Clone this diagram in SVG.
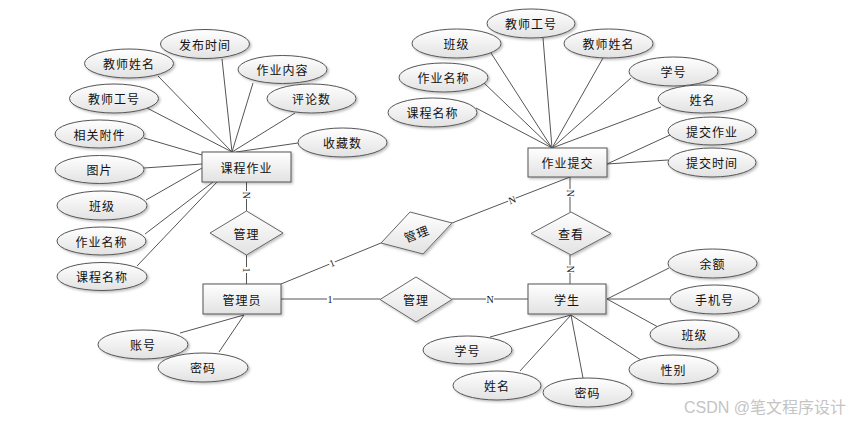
<svg xmlns="http://www.w3.org/2000/svg" width="850" height="421" viewBox="0 0 850 421">
<defs>
  <linearGradient id="g" x1="0" y1="0" x2="0" y2="1">
    <stop offset="0" stop-color="#ffffff"/>
    <stop offset="1" stop-color="#e2e2e2"/>
  </linearGradient>
  <filter id="sh" x="-20%" y="-20%" width="140%" height="150%">
    <feDropShadow dx="1.5" dy="1.5" stdDeviation="1" flood-color="#000" flood-opacity="0.25"/>
  </filter>
</defs>
<style>
  .attr ellipse { fill: url(#g); stroke: #555; stroke-width: 1; filter: url(#sh); }
  .ent rect { fill: url(#g); stroke: #555; stroke-width: 1; filter: url(#sh); }
  .rel polygon { fill: url(#g); stroke: #666; stroke-width: 1; filter: url(#sh); }
  text { font-family: "Noto Sans CJK SC", "Liberation Sans", sans-serif; font-size: 12px; fill: #111; text-anchor: middle; dominant-baseline: central; letter-spacing: 1px; }
  .conn line { stroke: #555; stroke-width: 1; }
  .card rect { fill: #fff; }
  .card text { font-family: "Liberation Serif", serif; font-size: 10px; letter-spacing: 0; }
  .wm { font-family: "Liberation Sans", "Noto Sans CJK SC", sans-serif; font-size: 16px; fill: #c4c4c4; text-anchor: end; letter-spacing: 0; }
</style>
<rect width="850" height="421" fill="#fff"/>

<g id="connectors" class="conn">
  <!-- 课程作业 attributes -->
  <line x1="222" y1="59" x2="232" y2="152"/>
  <line x1="158" y1="76" x2="232" y2="152"/>
  <line x1="253" y1="83" x2="232" y2="152"/>
  <line x1="147" y1="108" x2="232" y2="152"/>
  <line x1="295" y1="113" x2="232" y2="152"/>
  <line x1="298" y1="143" x2="236" y2="152"/>
  <line x1="144" y1="138" x2="202" y2="155"/>
  <line x1="144" y1="168" x2="202" y2="164"/>
  <line x1="146" y1="200" x2="202" y2="168"/>
  <line x1="145" y1="234" x2="213" y2="182"/>
  <line x1="137" y1="266" x2="217" y2="182"/>
  <!-- 作业提交 attributes -->
  <line x1="491" y1="53" x2="552" y2="148"/>
  <line x1="543" y1="38" x2="552" y2="148"/>
  <line x1="603" y1="58" x2="552" y2="148"/>
  <line x1="484" y1="83" x2="552" y2="148"/>
  <line x1="476" y1="108" x2="552" y2="148"/>
  <line x1="631" y1="78" x2="552" y2="148"/>
  <line x1="661" y1="107" x2="552" y2="148"/>
  <line x1="670" y1="135" x2="607" y2="164"/>
  <line x1="668" y1="160" x2="607" y2="164"/>
  <!-- 管理员 attributes -->
  <line x1="180" y1="333" x2="244" y2="315"/>
  <line x1="219" y1="352" x2="244" y2="315"/>
  <!-- 学生 attributes -->
  <line x1="669" y1="268" x2="607" y2="299"/>
  <line x1="670" y1="299" x2="607" y2="299"/>
  <line x1="658" y1="327" x2="607" y2="299"/>
  <line x1="490" y1="337" x2="571" y2="315"/>
  <line x1="520" y1="371" x2="571" y2="315"/>
  <line x1="583" y1="378" x2="571" y2="315"/>
  <line x1="641" y1="360" x2="571" y2="315"/>
  <!-- relationships -->
  <line x1="246.5" y1="182" x2="246.5" y2="211"/>
  <line x1="246.5" y1="255" x2="246.5" y2="284"/>
  <line x1="570" y1="177" x2="570" y2="212"/>
  <line x1="570" y1="255" x2="570" y2="284"/>
  <line x1="281" y1="299" x2="380" y2="299"/>
  <line x1="452" y1="299" x2="528" y2="299"/>
  <line x1="281" y1="284" x2="381" y2="243"/>
  <line x1="452" y1="223" x2="570" y2="177"/>
  <!-- cardinality labels -->
  <g class="card">
    <g transform="translate(246.5,195) rotate(90)"><rect x="-4" y="-5" width="8" height="10"/><text>N</text></g>
    <g transform="translate(246.5,270) rotate(90)"><rect x="-3" y="-5" width="6" height="10"/><text>1</text></g>
    <g transform="translate(570,193) rotate(90)"><rect x="-4" y="-5" width="8" height="10"/><text>N</text></g>
    <g transform="translate(570,269) rotate(90)"><rect x="-4" y="-5" width="8" height="10"/><text>N</text></g>
    <g transform="translate(330,299)"><rect x="-3" y="-5" width="6" height="10"/><text>1</text></g>
    <g transform="translate(490,299)"><rect x="-4" y="-5" width="8" height="10"/><text>N</text></g>
    <g transform="translate(332,263) rotate(-22)"><rect x="-3" y="-5" width="6" height="10"/><text>1</text></g>
    <g transform="translate(512,200) rotate(-21)"><rect x="-4" y="-5" width="8" height="10"/><text>N</text></g>
  </g>
</g>

<!-- entities -->
<g id="e-kczy" class="ent"><rect x="202" y="152" width="89" height="30"/><text x="246.5" y="167">课程作业</text></g>
<g id="e-zytj" class="ent"><rect x="528" y="148" width="79" height="29"/><text x="567.5" y="162.5">作业提交</text></g>
<g id="e-gly" class="ent"><rect x="203" y="284" width="78" height="30"/><text x="242" y="299">管理员</text></g>
<g id="e-xs" class="ent"><rect x="528" y="284" width="78" height="30"/><text x="567" y="299">学生</text></g>

<!-- relationships -->
<g id="r-gl1" class="rel"><polygon points="210,233 246.5,211 283,233 246.5,255"/><text x="246.5" y="233">管理</text></g>
<g id="r-ck" class="rel"><polygon points="531,233.5 571,212 611,233.5 571,255"/><text x="571" y="233.5">查看</text></g>
<g id="r-gl2" class="rel"><polygon points="380,299.5 416,277 452,299.5 416,322"/><text x="416" y="299.5">管理</text></g>
<g id="r-gl3" class="rel"><polygon points="381,243 410,212 452,223 423,254"/><text x="416.5" y="233" transform="rotate(-21 416.5 233)">管理</text></g>

<!-- 课程作业 attributes -->
<g id="a1" class="attr"><ellipse cx="205" cy="44" rx="44.5" ry="14.5"/><text x="205" y="44">发布时间</text></g>
<g id="a2" class="attr"><ellipse cx="129" cy="63.5" rx="44.5" ry="14.5"/><text x="129" y="63.5">教师姓名</text></g>
<g id="a3" class="attr"><ellipse cx="282.5" cy="69.5" rx="44.5" ry="14"/><text x="282.5" y="69.5">作业内容</text></g>
<g id="a4" class="attr"><ellipse cx="114" cy="98.5" rx="44.5" ry="14.5"/><text x="114" y="98.5">教师工号</text></g>
<g id="a5" class="attr"><ellipse cx="311.5" cy="98.5" rx="44.5" ry="14.5"/><text x="311.5" y="98.5">评论数</text></g>
<g id="a6" class="attr"><ellipse cx="99.5" cy="134" rx="44.5" ry="14"/><text x="99.5" y="134">相关附件</text></g>
<g id="a7" class="attr"><ellipse cx="342.5" cy="142.5" rx="44.5" ry="14.5"/><text x="342.5" y="142.5">收藏数</text></g>
<g id="a8" class="attr"><ellipse cx="99.5" cy="169.5" rx="44.5" ry="14"/><text x="99.5" y="169.5">图片</text></g>
<g id="a9" class="attr"><ellipse cx="102" cy="205.5" rx="45" ry="14.5"/><text x="102" y="205.5">班级</text></g>
<g id="a10" class="attr"><ellipse cx="101.5" cy="241" rx="44.5" ry="14"/><text x="101.5" y="241">作业名称</text></g>
<g id="a11" class="attr"><ellipse cx="102" cy="276.5" rx="45" ry="14"/><text x="102" y="276.5">课程名称</text></g>

<!-- 作业提交 attributes -->
<g id="b1" class="attr"><ellipse cx="531" cy="23.5" rx="44" ry="14.5"/><text x="531" y="23.5">教师工号</text></g>
<g id="b2" class="attr"><ellipse cx="456.5" cy="43.5" rx="44.5" ry="14.5"/><text x="456.5" y="43.5">班级</text></g>
<g id="b3" class="attr"><ellipse cx="608.5" cy="43.5" rx="44.5" ry="14.5"/><text x="608.5" y="43.5">教师姓名</text></g>
<g id="b4" class="attr"><ellipse cx="443.5" cy="77.5" rx="44.5" ry="14.5"/><text x="443.5" y="77.5">作业名称</text></g>
<g id="b5" class="attr"><ellipse cx="673.5" cy="71.5" rx="44.5" ry="14.5"/><text x="673.5" y="71.5">学号</text></g>
<g id="b6" class="attr"><ellipse cx="432.5" cy="112.5" rx="44.5" ry="14.5"/><text x="432.5" y="112.5">课程名称</text></g>
<g id="b7" class="attr"><ellipse cx="702.5" cy="99" rx="44.5" ry="14"/><text x="702.5" y="99">姓名</text></g>
<g id="b8" class="attr"><ellipse cx="712" cy="131" rx="44" ry="14"/><text x="712" y="131">提交作业</text></g>
<g id="b9" class="attr"><ellipse cx="712" cy="162.5" rx="44" ry="14.5"/><text x="712" y="162.5">提交时间</text></g>

<!-- 管理员 attributes -->
<g id="c1" class="attr"><ellipse cx="143" cy="344.5" rx="45" ry="14.5"/><text x="143" y="344.5">账号</text></g>
<g id="c2" class="attr"><ellipse cx="203" cy="367.5" rx="45" ry="14.5"/><text x="203" y="367.5">密码</text></g>

<!-- 学生 attributes -->
<g id="d1" class="attr"><ellipse cx="712.5" cy="263.5" rx="44.5" ry="14.5"/><text x="712.5" y="263.5">余额</text></g>
<g id="d2" class="attr"><ellipse cx="714.5" cy="299.5" rx="44.5" ry="14.5"/><text x="714.5" y="299.5">手机号</text></g>
<g id="d3" class="attr"><ellipse cx="694.5" cy="334.5" rx="44.5" ry="14.5"/><text x="694.5" y="334.5">班级</text></g>
<g id="d4" class="attr"><ellipse cx="673.5" cy="369.5" rx="44.5" ry="14.5"/><text x="673.5" y="369.5">性别</text></g>
<g id="d5" class="attr"><ellipse cx="467.5" cy="350" rx="44.5" ry="14"/><text x="467.5" y="350">学号</text></g>
<g id="d6" class="attr"><ellipse cx="497" cy="385.5" rx="44" ry="14.5"/><text x="497" y="385.5">姓名</text></g>
<g id="d7" class="attr"><ellipse cx="587.5" cy="392.5" rx="44.5" ry="14.5"/><text x="587.5" y="392.5">密码</text></g>

<text class="wm" x="846" y="407">CSDN @笔文程序设计</text>
</svg>
